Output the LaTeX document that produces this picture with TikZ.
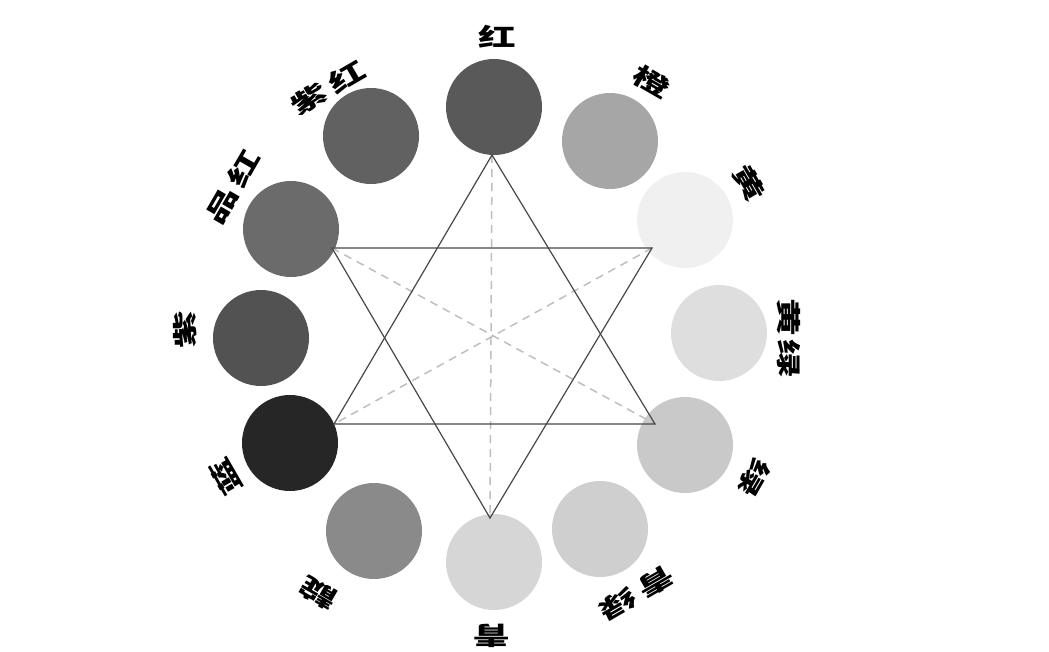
\documentclass[tikz,border=0pt]{standalone}
\usepackage{fontspec}
\newfontfamily\cjk{Noto Sans CJK SC}
\begin{document}
\begin{tikzpicture}[x=1pt,y=-1pt]
\tikzset{
  disc/.style={circle, minimum size=96pt, inner sep=0pt, draw=none},
  lbl/.style={font={\cjk\bfseries\fontsize{26}{26}\selectfont}, inner sep=0pt, xscale=1.45, yscale=0.95, text=black},
  star/.style={draw=black!72, line width=1.2pt},
  guide/.style={draw=black!25, line width=1.5pt, dash pattern=on 8pt off 6pt}
}
\useasboundingbox (0,0) rectangle (1049,651);
\fill[white] (0,0) rectangle (1049,651);
% colour discs
\node[disc, fill=black!65] (c0) at (494,107) {};
\node[disc, fill=black!35] (c1) at (610,141) {};
\node[disc, fill=black!6] (c2) at (685,220) {};
\node[disc, fill=black!13] (c3) at (719,333) {};
\node[disc, fill=black!21] (c4) at (685,445) {};
\node[disc, fill=black!19] (c5) at (600,529) {};
\node[disc, fill=black!16] (c6) at (494,562) {};
\node[disc, fill=black!46] (c7) at (374,531) {};
\node[disc, fill=black!85] (c8) at (290,443) {};
\node[disc, fill=black!68] (c9) at (261,338) {};
\node[disc, fill=black!58] (c10) at (291,229) {};
\node[disc, fill=black!62] (c11) at (371,136) {};
% hexagram vertices
\coordinate (vR) at (492,155);
\coordinate (vG) at (655,424);
\coordinate (vB) at (334,424);
\coordinate (vM) at (332,248);
\coordinate (vY) at (652,248);
\coordinate (vC) at (490,518);
% dashed guides
\draw[guide] (vR) -- (vC);
\draw[guide] (vM) -- (vG);
\draw[guide] (vY) -- (vB);
% triangles
\draw[star, line join=miter] (vR) -- (vG) -- (vB) -- cycle;
\draw[star, line join=miter] (vM) -- (vY) -- (vC) -- cycle;
% labels
\node[rotate=0, lbl] (l0) at (497,37) {红};
\node[rotate=-30, lbl] (l1) at (652,82) {橙};
\node[rotate=-60, lbl] (l2) at (749,183) {黄};
\node[rotate=-90, lbl] (l3) at (789,338) {黄\hspace{2pt}绿};
\node[rotate=-120, lbl] (l4) at (754,478) {绿};
\node[rotate=-150, lbl] (l5) at (637,593) {青\hspace{4pt}绿};
\node[rotate=180, lbl] (l6) at (492,636) {青};
\node[rotate=150, lbl] (l7) at (318,593) {靛};
\node[rotate=120, lbl] (l8) at (226,477) {蓝};
\node[rotate=90, lbl] (l9) at (185,330) {紫};
\node[rotate=60, lbl] (l10) at (233,187) {品\hspace{4pt}红};
\node[rotate=30, lbl] (l11) at (328,88) {紫\hspace{4pt}红};
\end{tikzpicture}
\end{document}
